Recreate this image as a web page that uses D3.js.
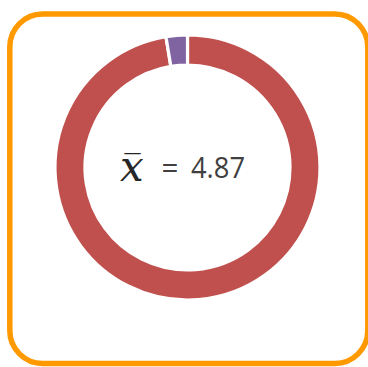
<!DOCTYPE html>
<html>
<head>
<meta charset="utf-8">
<script src="https://cdn.jsdelivr.net/npm/d3@7"></script>
<style>
  html, body { margin: 0; padding: 0; background: #fff; }
  svg { display: block; }
</style>
</head>
<body>
<svg id="chart"></svg>
<script>
// chart data
const categories = ["Mean", "Remainder"];
const values = [4.87, 0.13];
const colors = ["#C0504D", "#8064A2"];
const meanLabel = "4.87";

const w = 368;
const h = 367;
const cx = 187.5;
const cy = 167.5;
const outerR = 132.5;
const innerR = 102.5;

const svg = d3.select("#chart")
  .attr("width", w)
  .attr("height", h);

// orange frame
svg.append("rect")
  .attr("x", 9.8)
  .attr("y", 14)
  .attr("width", 358)
  .attr("height", 349.5)
  .attr("rx", 33)
  .attr("ry", 33)
  .style("fill", "none")
  .style("stroke", "#FF9900")
  .style("stroke-width", 5.5);

const pie = d3.pie().sort(null).value(d => d);
const arc = d3.arc().innerRadius(innerR).outerRadius(outerR);

const g = svg.append("g").attr("transform", `translate(${cx}, ${cy})`);

g.selectAll("path")
  .data(pie(values))
  .enter()
  .append("path")
  .attr("d", arc)
  .attr("data-name", (d, i) => categories[i])
  .style("fill", (d, i) => colors[i])
  .style("stroke", "#fff")
  .style("stroke-width", 3.2);

// centre label: x-bar = mean (one text, the bar is a dash glyph)
const xbar = svg.append("text")
  .style("fill", "#262626");

xbar.append("tspan")
  .attr("x", 120)
  .attr("y", 181)
  .style("font-family", "'DejaVu Serif', serif")
  .style("font-style", "italic")
  .style("font-size", "42px")
  .text("x");

xbar.append("tspan")
  .attr("x", 123.5)
  .attr("y", 158)
  .style("font-family", "'DejaVu Sans', sans-serif")
  .style("font-size", "18px")
  .text("\u2014");

svg.append("text")
  .attr("x", 170)
  .attr("y", 178.3)
  .attr("text-anchor", "middle")
  .style("font-family", "'Open Sans', sans-serif")
  .style("font-size", "29.5px")
  .style("fill", "#404040")
  .text("=");

svg.append("text")
  .attr("x", 191)
  .attr("y", 178.3)
  .attr("textLength", 54)
  .attr("lengthAdjust", "spacingAndGlyphs")
  .style("font-family", "'Open Sans', sans-serif")
  .style("font-size", "29.5px")
  .style("fill", "#404040")
  .text(meanLabel);
</script>
</body>
</html>
